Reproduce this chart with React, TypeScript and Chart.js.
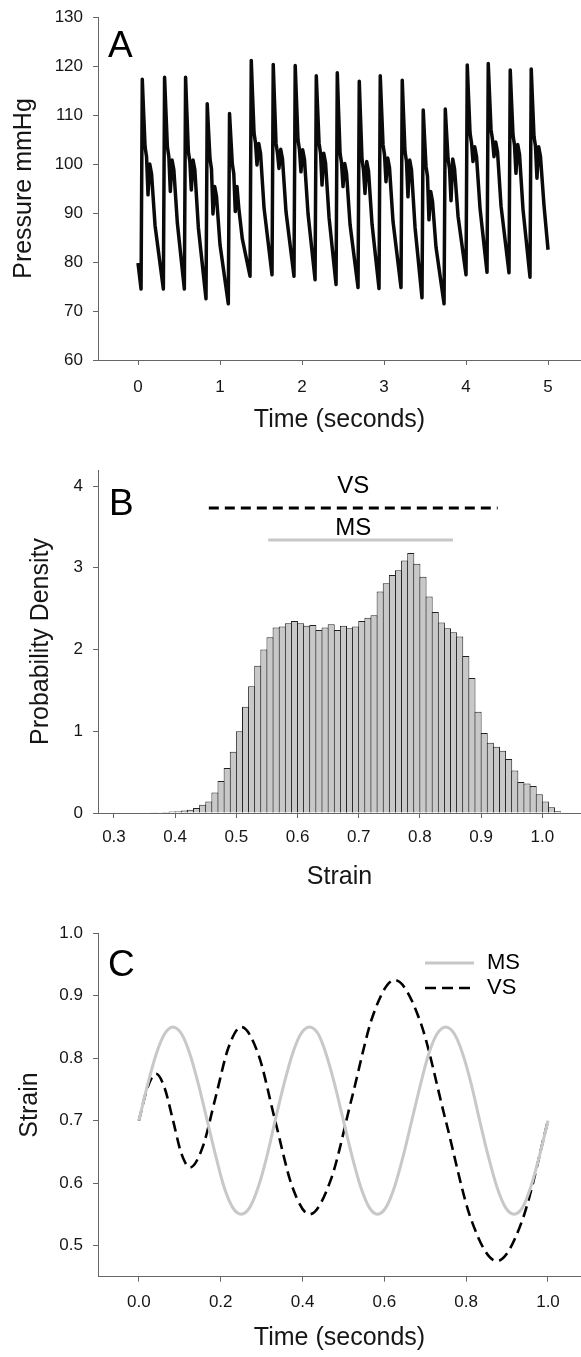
import React, { useEffect, useRef } from "react";
import { Chart, registerables } from "chart.js";

Chart.register(...registerables);

const FONT = "'Liberation Sans', Arial, Helvetica, sans-serif";
const AXIS_COLOR = "#666666";
const TEXT_COLOR = "#161616";

// ---------------- Panel A: arterial pressure trace ----------------
const pressureTicksX = [0, 1, 2, 3, 4, 5];
const pressureTicksY = [60, 70, 80, 90, 100, 110, 120, 130];
const pressureTrace: [number, number][] = [
  [0, 79.8], [0.037, 74.5],
  [0.052, 117.3], [0.067, 111.1], [0.086, 103.5], [0.104, 101.5], [0.122, 93.7], [0.143, 100.0], [0.165, 98.0], [0.208, 87.4], [0.309, 74.5],
  [0.324, 117.7], [0.339, 111.3], [0.358, 103.5], [0.376, 101.5], [0.394, 94.4], [0.415, 100.8], [0.437, 98.8], [0.48, 87.9], [0.565, 74.5],
  [0.58, 117.7], [0.595, 110.9], [0.614, 102.5], [0.632, 100.5], [0.65, 94.7], [0.671, 100.8], [0.693, 98.8], [0.736, 87.0], [0.829, 72.5],
  [0.844, 112.3], [0.859, 107.2], [0.878, 101.0], [0.896, 99.0], [0.914, 89.8], [0.935, 95.4], [0.957, 93.4], [1.0, 83.5], [1.101, 71.5],
  [1.116, 110.3], [1.131, 105.7], [1.15, 100.0], [1.168, 98.0], [1.186, 90.3], [1.207, 95.4], [1.229, 91.0], [1.272, 84.7], [1.366, 77.1],
  [1.381, 121.1], [1.396, 114.4], [1.415, 106.3], [1.433, 104.3], [1.451, 99.8], [1.472, 104.2], [1.494, 102.2], [1.537, 91.0], [1.634, 77.4],
  [1.649, 120.3], [1.664, 113.1], [1.683, 104.2], [1.701, 102.2], [1.719, 99.1], [1.74, 103.0], [1.762, 101.0], [1.805, 90.2], [1.902, 77.1],
  [1.917, 120.1], [1.932, 113.3], [1.951, 104.9], [1.969, 102.9], [1.987, 98.4], [2.008, 102.9], [2.03, 100.9], [2.073, 89.9], [2.159, 76.4],
  [2.174, 118.0], [2.189, 111.8], [2.208, 104.2], [2.226, 102.2], [2.244, 95.7], [2.265, 102.2], [2.287, 100.2], [2.33, 89.0], [2.415, 75.4],
  [2.43, 118.6], [2.445, 111.2], [2.464, 102.2], [2.482, 100.2], [2.5, 95.4], [2.521, 100.1], [2.543, 98.1], [2.586, 87.6], [2.683, 74.8],
  [2.698, 116.9], [2.713, 109.7], [2.732, 100.8], [2.75, 98.8], [2.768, 94.0], [2.789, 100.5], [2.811, 98.5], [2.854, 87.7], [2.939, 74.6],
  [2.954, 118.0], [2.969, 111.7], [2.988, 103.9], [3.006, 101.9], [3.024, 96.4], [3.045, 101.2], [3.067, 99.2], [3.11, 88.2], [3.207, 74.8],
  [3.222, 117.1], [3.237, 110.5], [3.256, 102.5], [3.274, 100.5], [3.292, 93.3], [3.313, 100.8], [3.335, 98.8], [3.378, 87.1], [3.463, 72.7],
  [3.478, 111.0], [3.493, 105.8], [3.512, 99.5], [3.53, 97.5], [3.548, 88.6], [3.569, 94.4], [3.591, 92.4], [3.634, 83.0], [3.732, 71.5],
  [3.747, 111.2], [3.762, 106.6], [3.781, 101.0], [3.799, 99.0], [3.817, 92.5], [3.838, 101.0], [3.86, 99.0], [3.903, 89.3], [4.0, 77.4],
  [4.015, 120.2], [4.03, 114.0], [4.049, 106.3], [4.067, 104.3], [4.085, 100.5], [4.106, 103.5], [4.128, 101.5], [4.171, 90.9], [4.256, 77.9],
  [4.271, 120.5], [4.286, 114.4], [4.305, 107.0], [4.323, 105.0], [4.341, 101.5], [4.362, 104.5], [4.384, 102.5], [4.427, 91.4], [4.524, 77.8],
  [4.539, 119.2], [4.554, 113.2], [4.573, 105.9], [4.591, 103.9], [4.609, 98.1], [4.63, 104.0], [4.652, 102.0], [4.695, 90.7], [4.78, 76.9],
  [4.795, 119.4], [4.81, 113.2], [4.829, 105.6], [4.847, 103.6], [4.865, 97.1], [4.886, 103.5], [4.908, 101.5], [4.951, 91.5], [5.0, 82.5],
];

// ---------------- Panel B: strain histogram ----------------
const BIN_WIDTH = 0.01;
const strainBinLeft = [
  0.35, 0.36, 0.37, 0.38, 0.39, 0.4, 0.41, 0.42, 0.43, 0.44, 0.45, 0.46, 0.47, 0.48, 0.49,
  0.5, 0.51, 0.52, 0.53, 0.54, 0.55, 0.56, 0.57, 0.58, 0.59, 0.6, 0.61, 0.62, 0.63, 0.64,
  0.65, 0.66, 0.67, 0.68, 0.69, 0.7, 0.71, 0.72, 0.73, 0.74, 0.75, 0.76, 0.77, 0.78, 0.79,
  0.8, 0.81, 0.82, 0.83, 0.84, 0.85, 0.86, 0.87, 0.88, 0.89, 0.9, 0.91, 0.92, 0.93, 0.94,
  0.95, 0.96, 0.97, 0.98, 0.99, 1.0, 1.01, 1.02,
];
const strainDensity = [
  0.005, 0.008, 0.01, 0.012, 0.018, 0.022, 0.03, 0.04, 0.06, 0.1, 0.14, 0.25, 0.39, 0.55, 0.75,
  1.0, 1.3, 1.55, 1.8, 2.0, 2.15, 2.27, 2.28, 2.32, 2.35, 2.32, 2.29, 2.3, 2.24, 2.27,
  2.31, 2.24, 2.29, 2.26, 2.28, 2.35, 2.39, 2.42, 2.71, 2.81, 2.91, 2.97, 3.09, 3.18, 3.05,
  2.89, 2.65, 2.46, 2.33, 2.26, 2.21, 2.16, 1.92, 1.65, 1.24, 0.98, 0.86, 0.81, 0.76, 0.66,
  0.52, 0.38, 0.36, 0.33, 0.23, 0.14, 0.07, 0.02,
];
const densityTicksX = [0.3, 0.4, 0.5, 0.6, 0.7, 0.8, 0.9, 1.0];
const densityTicksY = [0, 1, 2, 3, 4];
const vsRange = [0.455, 0.927];
const vsLevel = 3.73;
const msRange = [0.552, 0.854];
const msLevel = 3.34;

// ---------------- Panel C: strain waveforms ----------------
const waveTicksX = [0, 0.2, 0.4, 0.6, 0.8, 1.0];
const waveTicksY = [0.5, 0.6, 0.7, 0.8, 0.9, 1.0];
const msTime = [
  0, 0.021, 0.042, 0.063, 0.083, 0.104, 0.125, 0.146, 0.167, 0.188, 0.208, 0.229, 0.25, 0.271, 0.292, 0.313,
  0.333, 0.354, 0.375, 0.396, 0.417, 0.438, 0.458, 0.479, 0.5, 0.521, 0.542, 0.563, 0.583, 0.604, 0.625, 0.646,
  0.667, 0.688, 0.708, 0.729, 0.75, 0.771, 0.792, 0.813, 0.833, 0.854, 0.875, 0.896, 0.917, 0.938, 0.958, 0.979, 1.0,
];
const msStrain = [
  0.7, 0.757, 0.806, 0.839, 0.85, 0.839, 0.806, 0.757, 0.7, 0.643, 0.594, 0.561, 0.55, 0.561, 0.594, 0.643,
  0.7, 0.757, 0.806, 0.839, 0.85, 0.839, 0.806, 0.757, 0.7, 0.643, 0.594, 0.561, 0.55, 0.561, 0.594, 0.643,
  0.7, 0.757, 0.806, 0.839, 0.85, 0.839, 0.806, 0.757, 0.7, 0.643, 0.594, 0.561, 0.55, 0.561, 0.594, 0.643, 0.7,
];
const vsTime = [
  0, 0.021, 0.042, 0.0625, 0.0835, 0.104, 0.125, 0.156, 0.1875, 0.219, 0.25, 0.292, 0.333, 0.375, 0.417,
  0.469, 0.521, 0.573, 0.625, 0.6875, 0.75, 0.8125, 0.875, 0.9375, 1.0,
];
const vsStrain = [
  0.7, 0.753, 0.775, 0.753, 0.7, 0.647, 0.625, 0.658, 0.7375, 0.817, 0.85, 0.806, 0.7, 0.594, 0.55,
  0.605, 0.7375, 0.87, 0.925, 0.859, 0.7, 0.541, 0.475, 0.541, 0.7,
];

// ---------------- helpers ----------------
const W = 581;
const TITLE_SIZE = 25;

function xAxis(opts: {
  min: number; max: number; ticks: number[]; fmt: (v: number) => string;
  height: number; tickPad: number; title: string; titlePad: number;
}) {
  return {
    type: "linear",
    position: "bottom",
    min: opts.min,
    max: opts.max,
    offset: false,
    afterBuildTicks: (s: any) => { s.ticks = opts.ticks.map((v) => ({ value: v })); },
    afterFit: (s: any) => { s.height = opts.height; s.paddingLeft = 0; s.paddingRight = 0; },
    ticks: {
      autoSkip: false, maxRotation: 0, minRotation: 0, padding: opts.tickPad,
      color: TEXT_COLOR, font: { family: FONT, size: 17 },
      callback: (v: any) => opts.fmt(Number(v)),
    },
    grid: { display: true, drawOnChartArea: false, drawTicks: true, tickLength: 5, color: AXIS_COLOR, offset: false },
    border: { display: true, color: AXIS_COLOR, width: 1 },
    title: {
      display: true, text: opts.title, color: TEXT_COLOR,
      font: { family: FONT, size: TITLE_SIZE }, padding: { top: 0, bottom: opts.titlePad },
    },
  };
}

function yAxis(opts: {
  min: number; max: number; ticks: number[]; fmt: (v: number) => string;
  title: string; titlePad: number;
}) {
  return {
    type: "linear",
    position: "left",
    min: opts.min,
    max: opts.max,
    afterBuildTicks: (s: any) => { s.ticks = opts.ticks.map((v) => ({ value: v })); },
    afterFit: (s: any) => { s.width = 98; s.paddingTop = 0; s.paddingBottom = 0; },
    ticks: {
      autoSkip: false, padding: 10, color: TEXT_COLOR, font: { family: FONT, size: 17 },
      callback: (v: any) => opts.fmt(Number(v)),
    },
    grid: { display: true, drawOnChartArea: false, drawTicks: true, tickLength: 5, color: AXIS_COLOR },
    border: { display: true, color: AXIS_COLOR, width: 1 },
    title: {
      display: true, text: opts.title, color: TEXT_COLOR,
      font: { family: FONT, size: TITLE_SIZE }, padding: { top: opts.titlePad, bottom: 0 },
    },
  };
}

function letterPlugin(letter: string, x: number, baseline: number) {
  return {
    id: "panelLetter" + letter,
    afterDraw(chart: any) {
      const ctx = chart.ctx;
      ctx.save();
      ctx.font = `37px ${FONT}`;
      ctx.fillStyle = "#000";
      ctx.textAlign = "left";
      ctx.textBaseline = "alphabetic";
      ctx.fillText(letter, x, baseline);
      ctx.restore();
    },
  };
}

const baseOptions = {
  responsive: false,
  maintainAspectRatio: false,
  animation: false,
  devicePixelRatio: 1,
  events: [],
  plugins: { legend: { display: false }, tooltip: { enabled: false } },
};

function buildA() {
  return {
    type: "line",
    data: {
      datasets: [
        {
          label: "Pressure",
          data: pressureTrace.map(([t, p]) => ({ x: t, y: p })),
          borderColor: "#0a0a0a",
          borderWidth: 3.5,
          pointRadius: 0,
          tension: 0,
          fill: false,
          borderJoinStyle: "round",
        },
      ],
    },
    options: {
      ...baseOptions,
      layout: { padding: { top: 17, left: 0, right: 0, bottom: 0 } },
      scales: {
        x: xAxis({ min: -0.488, max: 5.402, ticks: pressureTicksX, fmt: (v) => String(v), height: 100, tickPad: 12, title: "Time (seconds)", titlePad: 25 }),
        y: yAxis({ min: 60, max: 130, ticks: pressureTicksY, fmt: (v) => String(v), title: "Pressure mmHg", titlePad: 9 }),
      },
    },
    plugins: [letterPlugin("A", 108, 57)],
  };
}

function buildB() {
  const labelPlugin = {
    id: "vsmsLabels",
    afterDraw(chart: any) {
      const ctx = chart.ctx;
      const xs = chart.scales.x;
      const ys = chart.scales.y;
      const cx = xs.getPixelForValue((vsRange[0] + vsRange[1]) / 2);
      ctx.save();
      ctx.font = `24px ${FONT}`;
      ctx.fillStyle = "#000";
      ctx.textAlign = "center";
      ctx.textBaseline = "middle";
      ctx.fillText("VS", cx, ys.getPixelForValue(vsLevel) - 22);
      ctx.fillText("MS", cx, ys.getPixelForValue(msLevel) - 12);
      ctx.restore();
    },
  };
  return {
    type: "bar",
    data: {
      datasets: [
        {
          type: "line",
          label: "VS",
          data: vsRange.map((x) => ({ x, y: vsLevel })),
          borderColor: "#000",
          borderWidth: 3,
          borderDash: [10, 6],
          pointRadius: 0,
          fill: false,
        },
        {
          type: "line",
          label: "MS",
          data: msRange.map((x) => ({ x, y: msLevel })),
          borderColor: "#c8c8c8",
          borderWidth: 3,
          pointRadius: 0,
          fill: false,
        },
        {
          type: "bar",
          label: "Density",
          data: strainBinLeft.map((b, i) => ({ x: b + BIN_WIDTH / 2, y: strainDensity[i] })),
          backgroundColor: "#c8c8c8",
          borderColor: "#222222",
          borderWidth: 1,
          borderSkipped: "start",
          barPercentage: 1.16,
          categoryPercentage: 1,
        },
      ],
    },
    options: {
      ...baseOptions,
      layout: { padding: { top: 10, left: 0, right: 0, bottom: 0 } },
      scales: {
        x: xAxis({ min: 0.2739, max: 1.0632, ticks: densityTicksX, fmt: (v) => v.toFixed(1), height: 87, tickPad: 9, title: "Strain", titlePad: 8 }),
        y: yAxis({ min: 0, max: 4.196, ticks: densityTicksY, fmt: (v) => String(v), title: "Probability Density", titlePad: 26 }),
      },
    },
    plugins: [letterPlugin("B", 109, 55), labelPlugin],
  };
}

function buildC() {
  const legendPlugin = {
    id: "waveLegend",
    afterDraw(chart: any) {
      const ctx = chart.ctx;
      const rows = [63, 88];
      ctx.save();
      chart.data.datasets.forEach((ds: any, i: number) => {
        const y = rows[i];
        ctx.beginPath();
        ctx.strokeStyle = ds.borderColor;
        ctx.lineWidth = ds.borderWidth;
        ctx.setLineDash(ds.borderDash || []);
        ctx.moveTo(425, y);
        ctx.lineTo(474, y);
        ctx.stroke();
        ctx.setLineDash([]);
        ctx.font = `22px ${FONT}`;
        ctx.fillStyle = "#000";
        ctx.textAlign = "left";
        ctx.textBaseline = "middle";
        ctx.fillText(ds.label, 487, y);
      });
      ctx.restore();
    },
  };
  return {
    type: "line",
    data: {
      datasets: [
        {
          label: "MS",
          data: msTime.map((t, i) => ({ x: t, y: msStrain[i] })),
          borderColor: "#c8c8c8",
          borderWidth: 3,
          pointRadius: 0,
          cubicInterpolationMode: "monotone",
          fill: false,
        },
        {
          label: "VS",
          data: vsTime.map((t, i) => ({ x: t, y: vsStrain[i] })),
          borderColor: "#000",
          borderWidth: 2.6,
          borderDash: [11, 6],
          pointRadius: 0,
          cubicInterpolationMode: "monotone",
          fill: false,
        },
      ],
    },
    options: {
      ...baseOptions,
      layout: { padding: { top: 33.3, left: 0, right: 0, bottom: 0 } },
      scales: {
        x: xAxis({ min: -0.1, max: 1.0807, ticks: waveTicksX, fmt: (v) => v.toFixed(1), height: 80.3, tickPad: 10, title: "Time (seconds)", titlePad: 4 }),
        y: yAxis({ min: 0.45, max: 1.0, ticks: waveTicksY, fmt: (v) => v.toFixed(1), title: "Strain", titlePad: 15 }),
      },
    },
    plugins: [letterPlugin("C", 108, 76), legendPlugin],
  };
}

function ChartCanvas({ top, height, build }: { top: number; height: number; build: () => any }) {
  const ref = useRef<HTMLCanvasElement | null>(null);
  useEffect(() => {
    if (!ref.current) return;
    const chart = new Chart(ref.current, build());
    return () => chart.destroy();
  }, []);
  return (
    <canvas
      ref={ref}
      width={W}
      height={height}
      style={{ position: "absolute", left: 0, top, width: W, height, display: "block" }}
    />
  );
}

export default function App() {
  return (
    <div style={{ position: "absolute", left: 0, top: 0, width: W, height: 1357, background: "#fff", overflow: "hidden" }}>
      <ChartCanvas top={0} height={460} build={buildA} />
      <ChartCanvas top={460} height={440} build={buildB} />
      <ChartCanvas top={900} height={457} build={buildC} />
    </div>
  );
}
